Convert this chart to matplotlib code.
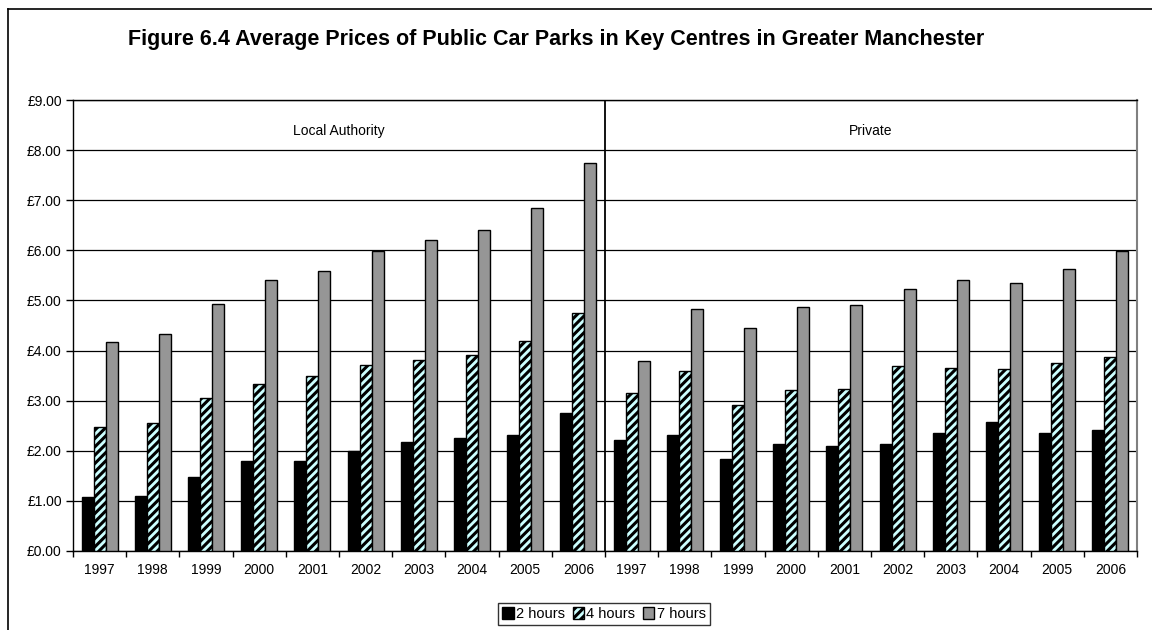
import numpy as np
import matplotlib
matplotlib.use("Agg")
import matplotlib.pyplot as plt
from matplotlib.lines import Line2D

plt.rcParams['font.family'] = ['Liberation Sans', 'DejaVu Sans']
plt.rcParams['hatch.linewidth'] = 2.2

years = ["1997", "1998", "1999", "2000", "2001", "2002", "2003", "2004", "2005", "2006"]
groups = ["Local Authority", "Private"]
series = ["2 hours", "4 hours", "7 hours"]

la_2h = [1.07, 1.10, 1.48, 1.80, 1.80, 1.99, 2.18, 2.25, 2.32, 2.76]
la_4h = [2.47, 2.56, 3.05, 3.33, 3.49, 3.71, 3.81, 3.91, 4.20, 4.74]
la_7h = [4.17, 4.33, 4.93, 5.40, 5.59, 5.99, 6.21, 6.41, 6.85, 7.74]

pr_2h = [2.22, 2.32, 1.84, 2.13, 2.10, 2.13, 2.35, 2.58, 2.35, 2.41]
pr_4h = [3.15, 3.60, 2.91, 3.21, 3.24, 3.69, 3.65, 3.63, 3.75, 3.88]
pr_7h = [3.79, 4.83, 4.45, 4.87, 4.90, 5.22, 5.41, 5.34, 5.63, 5.99]

y_ticks = [0, 1, 2, 3, 4, 5, 6, 7, 8, 9]
y_labels = ["£0.00", "£1.00", "£2.00", "£3.00", "£4.00", "£5.00",
            "£6.00", "£7.00", "£8.00", "£9.00"]

values = [la_2h + pr_2h, la_4h + pr_4h, la_7h + pr_7h]
styles = [
    dict(facecolor="#000000", hatch=None),
    dict(facecolor="#CCFFFF", hatch="////"),
    dict(facecolor="#969696", hatch=None),
]

W, H = 1152, 630
fig = plt.figure(figsize=(W / 100, H / 100), dpi=100)
ax = fig.add_axes([73 / W, 1 - 551 / H, (1137 - 73) / W, (551 - 100) / H])

n = len(years) * len(groups)
x = np.arange(n)
bw = 0.225
for i, (vals, st) in enumerate(zip(values, styles)):
    ax.bar(x + (i - 1) * bw, vals, width=bw, facecolor=st["facecolor"],
           edgecolor="#000000", linewidth=1.0, hatch=st["hatch"],
           label=series[i], zorder=3)

ax.set_xlim(-0.5, n - 0.5)
ax.set_ylim(0, 9)
ax.set_yticks(y_ticks)
ax.set_yticklabels(y_labels, fontsize=10)
ax.set_xticks(x)
ax.set_xticklabels(years * 2, fontsize=10)
ax.tick_params(axis="x", length=0, pad=9)
ax.set_xticks(np.arange(n + 1) - 0.5, minor=True)
ax.tick_params(axis="x", which="minor", length=4, direction="out", width=1)
ax.tick_params(axis="y", length=5, direction="out", width=1, pad=3)
ax.yaxis.grid(True, color="#000000", linewidth=0.9, zorder=0)
ax.set_axisbelow(True)

for side in ["top", "left", "bottom"]:
    ax.spines[side].set_color("#000000")
    ax.spines[side].set_linewidth(1.0)
ax.spines["right"].set_color("#808080")
ax.spines["right"].set_linewidth(1.5)

# divider between the two operator groups
ax.axvline(len(years) - 0.5, color="#000000", linewidth=1.3, zorder=4)
ax.text((len(years) - 1) / 2, 8.25, groups[0], ha="center", va="bottom", fontsize=10)
ax.text(len(years) + (len(years) - 1) / 2, 8.25, groups[1], ha="center", va="bottom", fontsize=10)

fig.text(556 / W, 1 - 40 / H,
         "Figure 6.4 Average Prices of Public Car Parks in Key Centres in Greater Manchester",
         ha="center", va="center", fontsize=15.5, fontweight="bold")

# outer chart frame (left and top edges)
fig.add_artist(Line2D([8 / W, 8 / W], [0, 1 - 9 / H], color="#000000", linewidth=1.2,
                      transform=fig.transFigure))
fig.add_artist(Line2D([8 / W, 1], [1 - 9 / H, 1 - 9 / H], color="#000000", linewidth=1.2,
                      transform=fig.transFigure))

leg = fig.legend(loc="center", bbox_to_anchor=(604 / W, 1 - 614 / H), ncol=3,
                 fontsize=10.5, frameon=True, fancybox=False, edgecolor="#000000",
                 handlelength=0.8, handleheight=0.8, handletextpad=0.15,
                 columnspacing=0.5, borderpad=0.3, borderaxespad=0)
leg.get_frame().set_linewidth(1.0)

fig.savefig("out.png", dpi=100, facecolor="white")
